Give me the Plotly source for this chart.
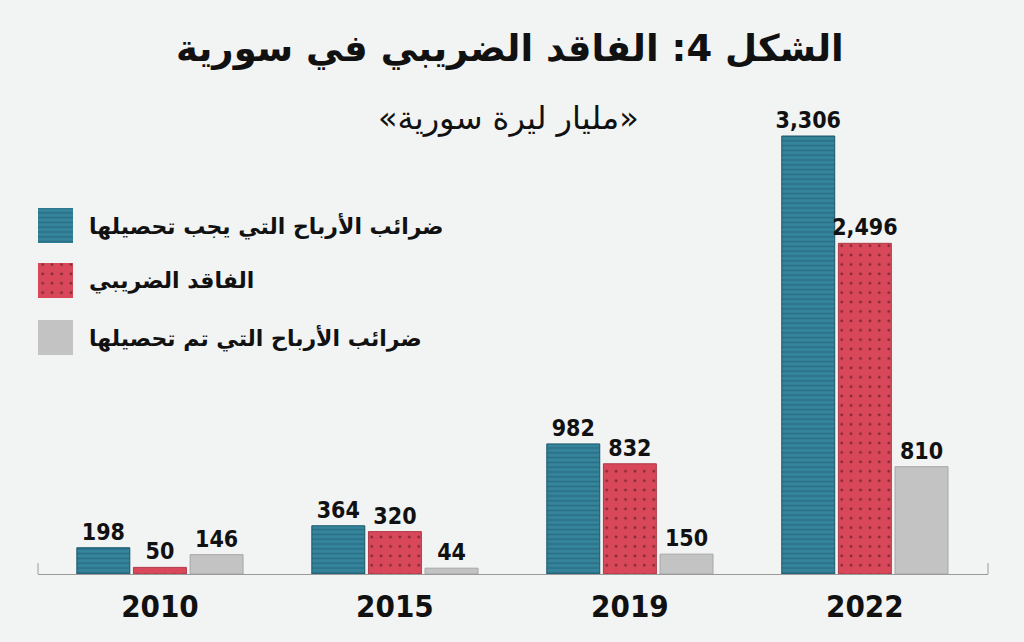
import plotly.graph_objects as go

# data (billion Syrian pounds)
years = ["2010", "2015", "2019", "2022"]
tax_due = [198, 364, 982, 3306]
tax_lost = [50, 320, 832, 2496]
tax_collected = [146, 44, 150, 810]

names = ["ضرائب الأرباح التي يجب تحصيلها", "الفاقد الضريبي", "ضرائب الأرباح التي تم تحصيلها"]
title = "الشكل 4: الفاقد الضريبي في سورية"
subtitle = "«مليار ليرة سورية»"

BG = "#f2f3f3"
TEAL = "#35859c"
TEAL_LINE = "#1b5669"
RED = "#d8485a"
GREY = "#c3c3c3"
NUM_FONT = "DejaVu Sans Condensed, Liberation Sans Narrow, sans-serif"
AR_FONT = "DejaVu Sans, Noto Sans, sans-serif"

styles = [
    dict(color=TEAL, line=dict(color=TEAL_LINE, width=1),
         pattern=dict(shape="-", fgcolor=TEAL_LINE, bgcolor=TEAL, size=4.8, solidity=0.32)),
    dict(color=RED, line=dict(color="#b03a48", width=1),
         pattern=dict(shape=".", fgcolor="#2a0a0f", bgcolor=RED, size=9.4, solidity=0.07)),
    dict(color=GREY, line=dict(color="#a6a6a6", width=1)),
]

fig = go.Figure()

for vals, name, st in zip([tax_due, tax_lost, tax_collected], names, styles):
    fig.add_bar(x=years, y=vals, name=name, marker=st,
                text=vals, texttemplate="%{y:,}", textposition="outside",
                constraintext="none",
                textfont=dict(family=NUM_FONT, size=23, color="#111111", weight="bold"),
                cliponaxis=False, showlegend=False, hoverinfo="skip")

# legend drawn by hand on an overlay axis measured in pixels
sw_top = [208, 263, 320]
sw_h = 35
for st, top, name in zip(styles, sw_top, names):
    fp = st.get("pattern")
    fig.add_scatter(x=[37, 73, 73, 37, 37], y=[top, top, top + sw_h, top + sw_h, top],
                    xaxis="x2", yaxis="y2", mode="lines", fill="toself",
                    fillcolor=st["color"], line=dict(width=0),
                    fillpattern=fp if fp else None,
                    hoverinfo="skip", showlegend=False)
    fig.add_annotation(x=87, y=top + sw_h / 2, xref="x2", yref="y2", text=name,
                       showarrow=False, xanchor="left", yanchor="middle",
                       font=dict(family=AR_FONT, size=22, color="#111111", weight="bold"))

# titles in paper coords (plot area spans 100..574 px vertically)
fig.add_annotation(x=(510 - 38) / 950, y=(574 - 48) / 474, xref="paper", yref="paper",
                   text=title, showarrow=False, xanchor="center", yanchor="middle",
                   font=dict(family=AR_FONT, size=37, color="#111111", weight="bold"))
fig.add_annotation(x=(508 - 38) / 950, y=(574 - 118) / 474, xref="paper", yref="paper",
                   text=subtitle, showarrow=False, xanchor="center", yanchor="middle",
                   font=dict(family=AR_FONT, size=32, color="#111111"))

# small end ticks of the base line
for xp in [0, 1]:
    fig.add_shape(type="line", xref="paper", yref="paper", x0=xp, x1=xp, y0=0, y1=0.023,
                  line=dict(color="#9a9a9a", width=1))

fig.update_layout(
    width=1024, height=642,
    margin=dict(l=38, r=36, t=100, b=68),
    paper_bgcolor=BG, plot_bgcolor=BG,
    barmode="group", bargap=0.277, bargroupgap=0.065,
    xaxis=dict(type="category", range=[-0.519, 3.524], showline=True, linecolor="#9a9a9a",
               linewidth=1, showgrid=False, ticks="", ticklabelstandoff=5,
               tickfont=dict(family=NUM_FONT, size=31, color="#111111", weight="bold")),
    yaxis=dict(range=[0, 3578], visible=False, showgrid=False, zeroline=False),
    xaxis2=dict(range=[38, 988], overlaying="x", visible=False, fixedrange=True),
    yaxis2=dict(range=[574, 100], overlaying="y", visible=False, fixedrange=True),
)

fig.write_html("out.html", config={"displayModeBar": False},
               post_script="document.body.style.margin='0';")
